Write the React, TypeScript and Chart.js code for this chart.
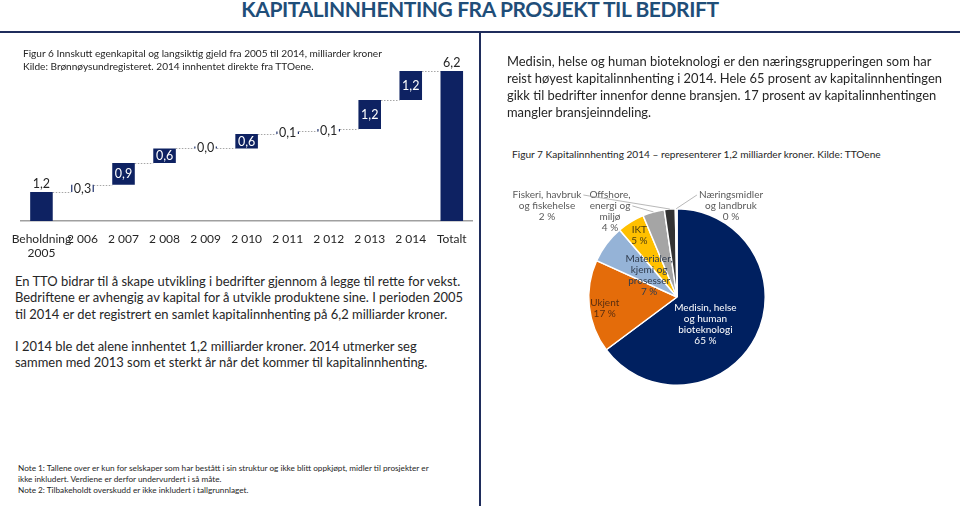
import React, { useEffect, useRef } from "react";
import { Chart, registerables } from "chart.js";

Chart.register(...registerables);

const FONT = "Lato, 'Open Sans', 'DejaVu Sans', sans-serif";
const NAVY = "#0E2262";
const TEXT = "#262626";

// ---------------- data ----------------
const titleText = "KAPITALINNHENTING FRA PROSJEKT TIL BEDRIFT";

const waterfallCategories: (string | string[])[] = [
  ["Beholdning", "2005"],
  "2 006",
  "2 007",
  "2 008",
  "2 009",
  "2 010",
  "2 011",
  "2 012",
  "2 013",
  "2 014",
  "Totalt",
];
const yearlyInflows = [1.2, 0.3, 0.9, 0.6, 0.0, 0.6, 0.1, 0.1, 1.2, 1.2];
const totalInflow = 6.2;

const sectorNames: string[][] = [
  ["Medisin, helse", "og human", "bioteknologi"],
  ["Ukjent"],
  ["Materialer,", "kjemi og", "prosesser"],
  ["IKT"],
  ["Offshore,", "energi og", "miljø"],
  ["Fiskeri, havbruk", "og fiskehelse"],
  ["Næringsmidler", "og landbruk"],
];
const sectorShares = [65, 17, 7, 5, 4, 2, 0.3];

const figure6Caption = [
  "Figur 6 Innskutt egenkapital og langsiktig gjeld fra 2005 til 2014, milliarder kroner",
  "Kilde: Brønnøysundregisteret. 2014 innhentet direkte fra TTOene.",
];
const leftParagraph1 = [
  "En TTO bidrar til å skape utvikling i bedrifter gjennom å legge til rette for vekst.",
  "Bedriftene er avhengig av kapital for å utvikle produktene sine. I perioden 2005",
  "til 2014 er det registrert en samlet kapitalinnhenting på 6,2 milliarder kroner.",
];
const leftParagraph2 = [
  "I 2014 ble det alene innhentet 1,2 milliarder kroner. 2014 utmerker seg",
  "sammen med 2013 som et sterkt år når det kommer til kapitalinnhenting.",
];
const rightParagraph = [
  "Medisin, helse og human bioteknologi er den næringsgrupperingen som har",
  "reist høyest kapitalinnhenting i 2014. Hele 65 prosent av kapitalinnhentingen",
  "gikk til bedrifter innenfor denne bransjen. 17 prosent av kapitalinnhentingen",
  "mangler bransjeinndeling.",
];
const figure7Caption = "Figur 7 Kapitalinnhenting 2014 – representerer 1,2 milliarder kroner. Kilde: TTOene";
const notes = [
  "Note 1: Tallene over er kun for selskaper som har bestått i sin struktur og ikke blitt oppkjøpt, midler til prosjekter er",
  "ikke inkludert. Verdiene er derfor undervurdert i så måte.",
  "Note 2: Tilbakeholdt overskudd er ikke inkludert i tallgrunnlaget.",
];

// ---------------- styles ----------------
const sectorColors = ["#002060", "#E46C0A", "#95B3D7", "#FFC000", "#A5A5A5", "#333333", "#D0D0D0"];
const sectorTextColors = ["#FFFFFF", "#5A2E10", "#2F3B4D", "#4A3C10", "#595959", "#595959", "#595959"];
// inside: r = radius fraction, da = degrees shift from mid angle; outside: dx/dy from centre (top line), leader line anchor
const sectorLabelPlacement: any[] = [
  { inside: true, r: 0.445, da: 17 },
  { inside: true, r: 0.83, da: -3 },
  { inside: true, r: 0.4, da: 1 },
  { inside: true, r: 0.815, da: 0 },
  { inside: false, dx: -67, dy: -102, line: 1, side: "right" },
  { inside: false, dx: -130, dy: -102, line: 0, side: "right" },
  { inside: false, dx: 54, dy: -102, line: 0, side: "left" },
];

let measureCtx: CanvasRenderingContext2D | null = null;
function measure(text: string, size: number, weight = 400): number {
  if (!measureCtx) measureCtx = document.createElement("canvas").getContext("2d");
  measureCtx!.font = `${weight} ${size}px ${FONT}`;
  return measureCtx!.measureText(text).width;
}
function fitSize(text: string, width: number, weight = 400): number {
  return (100 * width) / measure(text, 100, weight);
}
function fitSpacing(text: string, width: number, size: number, weight = 400): number {
  return (width - measure(text, size, weight)) / text.length;
}

const fmt = (v: number) => v.toFixed(1).replace(".", ",");

function Waterfall() {
  const ref = useRef<HTMLCanvasElement>(null);
  useEffect(() => {
    const bars: [number, number][] = [];
    const ends: number[] = [];
    let cum = 0;
    yearlyInflows.forEach((v) => {
      bars.push([cum, cum + v]);
      cum += v;
      ends.push(cum);
    });
    bars.push([0, totalInflow]);
    ends.push(totalInflow);
    const values = [...yearlyInflows, totalInflow];
    const last = values.length - 1;

    const connectors = {
      id: "connectors",
      beforeDatasetsDraw(chart: any) {
        const meta = chart.getDatasetMeta(0);
        const ys = chart.scales.y;
        const ctx = chart.ctx;
        ctx.save();
        ctx.strokeStyle = "#A6A6A6";
        ctx.lineWidth = 1;
        ctx.setLineDash([1.5, 1.5]);
        for (let i = 0; i < meta.data.length - 1; i++) {
          const a = meta.data[i];
          const b = meta.data[i + 1];
          const y = Math.round(ys.getPixelForValue(ends[i])) + 0.5;
          ctx.beginPath();
          ctx.moveTo(a.x + a.width / 2, y);
          ctx.lineTo(b.x - b.width / 2, y);
          ctx.stroke();
        }
        ctx.restore();
      },
    };

    const valueLabels = {
      id: "valueLabels",
      afterDatasetsDraw(chart: any) {
        const meta = chart.getDatasetMeta(0);
        const ctx = chart.ctx;
        ctx.save();
        ctx.font = `12.5px ${FONT}`;
        ctx.textAlign = "center";
        ctx.textBaseline = "middle";
        meta.data.forEach((bar: any, i: number) => {
          const txt = fmt(values[i]);
          const top = Math.min(bar.y, bar.base);
          const bottom = Math.max(bar.y, bar.base);
          const h = bottom - top;
          const cy = (top + bottom) / 2;
          if (i === 0 || i === last) {
            ctx.fillStyle = TEXT;
            ctx.fillText(txt, bar.x, top - 8);
          } else if (h >= 14) {
            ctx.fillStyle = "#FFFFFF";
            ctx.fillText(txt, bar.x, cy + 0.5);
          } else {
            const w = ctx.measureText(txt).width + 3;
            ctx.fillStyle = "#FFFFFF";
            ctx.fillRect(bar.x - w / 2, cy - 8, w, 16);
            ctx.fillStyle = TEXT;
            ctx.fillText(txt, bar.x, cy + 0.5);
          }
        });
        ctx.restore();
      },
    };

    const chart = new Chart(ref.current!, {
      type: "bar",
      data: {
        labels: waterfallCategories as any,
        datasets: [
          {
            data: bars as any,
            backgroundColor: NAVY,
            borderWidth: 0,
            barPercentage: 0.55,
            categoryPercentage: 1,
            minBarLength: 2,
          },
        ],
      },
      options: {
        responsive: false,
        animation: false,
        layout: { padding: { left: 14.7, right: 7.7, top: 51.6, bottom: 9 } },
        plugins: { legend: { display: false }, tooltip: { enabled: false } },
        scales: {
          x: {
            grid: { display: false, drawTicks: false },
            border: { display: true, color: "#A0A0A0", width: 1.5 },
            ticks: {
              color: TEXT,
              font: { family: FONT, size: 12 },
              padding: 11,
              autoSkip: false,
              maxRotation: 0,
              minRotation: 0,
            },
            afterFit(s: any) {
              s.height = 40;
            },
          },
          y: { display: false, min: 0, max: 7 },
        },
      },
      plugins: [connectors, valueLabels],
    });
    return () => chart.destroy();
  }, []);
  return (
    <canvas
      ref={ref}
      width={480}
      height={270}
      style={{ position: "absolute", left: 0, top: 0, width: 480, height: 270, display: "block" }}
    />
  );
}

function SectorPie() {
  const ref = useRef<HTMLCanvasElement>(null);
  useEffect(() => {
    const total = sectorShares.reduce((a, b) => a + b, 0);
    const labelPlugin = {
      id: "sectorLabels",
      afterDatasetsDraw(chart: any) {
        const meta = chart.getDatasetMeta(0);
        const ctx = chart.ctx;
        ctx.save();
        ctx.textAlign = "center";
        ctx.textBaseline = "middle";
        ctx.font = `10px ${FONT}`;
        meta.data.forEach((arc: any, i: number) => {
          const p = sectorLabelPlacement[i];
          const pct = Math.round((sectorShares[i] / total) * 100) + " %";
          const lines = [...sectorNames[i], pct];
          const mid = (arc.startAngle + arc.endAngle) / 2;
          ctx.fillStyle = sectorTextColors[i];
          if (p.inside) {
            const lh = 11;
            const a = mid + (p.da * Math.PI) / 180;
            const cx = arc.x + Math.cos(a) * arc.outerRadius * p.r;
            const cy = arc.y + Math.sin(a) * arc.outerRadius * p.r;
            const top = cy - ((lines.length - 1) * lh) / 2;
            lines.forEach((l, k) => ctx.fillText(l, cx, top + k * lh));
          } else {
            const lh = 10.9;
            const cx = arc.x + p.dx;
            const top = arc.y + p.dy;
            const anchorW = ctx.measureText(lines[p.line]).width;
            const sx = p.side === "right" ? cx + anchorW / 2 + 2 : cx - anchorW / 2 - 2;
            const sy = top + p.line * lh;
            const ex = arc.x + Math.cos(mid) * arc.outerRadius;
            const ey = arc.y + Math.sin(mid) * arc.outerRadius;
            ctx.strokeStyle = "#A6A6A6";
            ctx.lineWidth = 0.8;
            ctx.beginPath();
            ctx.moveTo(sx, sy);
            ctx.lineTo(ex, ey);
            ctx.stroke();
            ctx.fillStyle = sectorTextColors[i];
            lines.forEach((l, k) => ctx.fillText(l, cx, top + k * lh));
          }
        });
        ctx.restore();
      },
    };
    const chart = new Chart(ref.current!, {
      type: "pie",
      data: {
        labels: sectorNames.map((n) => n.join(" ")),
        datasets: [
          {
            data: sectorShares,
            backgroundColor: sectorColors,
            borderColor: "#FFFFFF",
            borderWidth: 1.5,
          },
        ],
      },
      options: {
        responsive: false,
        animation: false,
        rotation: 0,
        layout: { padding: { left: 98, right: 24, top: 28, bottom: 9 } },
        plugins: { legend: { display: false }, tooltip: { enabled: false } },
      },
      plugins: [labelPlugin],
    });
    return () => chart.destroy();
  }, []);
  return (
    <canvas
      ref={ref}
      width={300}
      height={215}
      style={{ position: "absolute", left: 490, top: 180, width: 300, height: 215, display: "block" }}
    />
  );
}

function Lines(props: {
  lines: string[];
  left: number;
  firstCenter: number;
  lh: number;
  size: number;
  color?: string;
  weight?: number;
}) {
  const { lines, left, firstCenter, lh, size, color = TEXT, weight = 400 } = props;
  return (
    <>
      {lines.map((l, k) => (
        <div
          key={k}
          style={{
            position: "absolute",
            left,
            top: firstCenter + k * lh - lh / 2,
            height: lh,
            lineHeight: lh + "px",
            fontSize: size,
            fontWeight: weight,
            color,
            whiteSpace: "nowrap",
            fontFamily: FONT,
          }}
        >
          {l}
        </div>
      ))}
    </>
  );
}

export default function App() {
  const titleSize = 21;
  const titleSpacing = fitSpacing(titleText, 480, titleSize, 700);
  const fig6Size = fitSize(figure6Caption[0], 360);
  const leftSize = fitSize(leftParagraph1[0], 447);
  const rightSize = fitSize(rightParagraph[1], 436);
  const fig7Size = fitSize(figure7Caption, 370);
  const notesSize = fitSize(notes[0], 413);
  return (
    <div
      style={{
        position: "fixed",
        left: 0,
        top: 0,
        width: 960,
        height: 506,
        background: "#FFFFFF",
        overflow: "hidden",
        fontFamily: FONT,
      }}
    >
      <div
        style={{
          position: "absolute",
          left: 0,
          width: 960,
          top: 9 - 13,
          height: 26,
          lineHeight: "26px",
          textAlign: "center",
          fontSize: titleSize,
          fontWeight: 700,
          letterSpacing: titleSpacing,
          color: "#1F4E79",
          whiteSpace: "nowrap",
        }}
      >
        {titleText}
      </div>
      <div style={{ position: "absolute", left: 0, top: 31, width: 960, height: 2, background: "#1F2D5C" }} />
      <div style={{ position: "absolute", left: 479, top: 32, width: 2, height: 474, background: "#1F2D5C" }} />

      <Waterfall />
      <SectorPie />

      <Lines lines={figure6Caption} left={23} firstCenter={53} lh={13} size={fig6Size} />
      <Lines lines={leftParagraph1} left={15} firstCenter={281} lh={16.5} size={leftSize} />
      <Lines lines={leftParagraph2} left={15} firstCenter={346} lh={16.5} size={leftSize} />
      <Lines lines={rightParagraph} left={507} firstCenter={61} lh={17} size={rightSize} />
      <Lines lines={[figure7Caption]} left={512} firstCenter={154} lh={13} size={fig7Size} />
      <Lines lines={notes} left={18} firstCenter={468} lh={11} size={notesSize} />
    </div>
  );
}
